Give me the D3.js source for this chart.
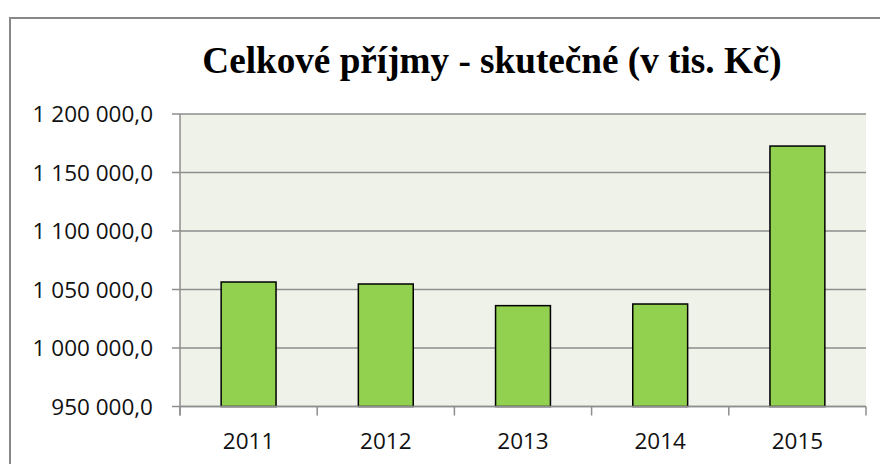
<!DOCTYPE html>
<html>
<head>
<meta charset="utf-8">
<script src="https://cdn.jsdelivr.net/npm/d3@7.9.0/dist/d3.min.js"></script>
<style>
  html, body { margin: 0; padding: 0; background: #fff; }
  svg { display: block; }
</style>
</head>
<body>
<svg id="chart" width="880" height="464"></svg>
<script>
// data
const years = ['2011', '2012', '2013', '2014', '2015'];
const prijmy = [1056400, 1054700, 1036200, 1037600, 1172600];
const yTicks = [950000, 1000000, 1050000, 1100000, 1150000, 1200000];
const title = 'Celkové příjmy - skutečné (v tis. Kč)';

const svg = d3.select('#chart');

// plot area
const plotL = 180, plotR = 866, plotT = 114, plotB = 406.5;

// outer chart frame (cropped at right/bottom)
svg.append('rect')
  .attr('x', 10).attr('y', 18)
  .attr('width', 900).attr('height', 500)
  .attr('fill', '#fff')
  .attr('stroke', '#888')
  .attr('stroke-width', 2);

svg.append('text')
  .attr('x', 492).attr('y', 73)
  .attr('text-anchor', 'middle')
  .style('font-family', '"Liberation Serif", "Times New Roman", serif')
  .style('font-weight', 'bold')
  .style('font-size', '37.2px')
  .text(title);

const xb = d3.scaleBand().domain(years).range([plotL, plotR]); // category slots
const y = d3.scaleLinear().domain([950000, 1200000]).range([plotB, plotT]);

svg.append('rect')
  .attr('x', plotL).attr('y', plotT)
  .attr('width', plotR - plotL).attr('height', plotB - plotT)
  .attr('fill', '#eff2e8');

// gridlines
svg.append('g')
  .selectAll('line')
  .data(yTicks)
  .join('line')
  .attr('x1', plotL - 8).attr('x2', plotR)
  .attr('y1', d => y(d)).attr('y2', d => y(d))
  .attr('stroke', '#8e8e8e')
  .attr('stroke-width', 1.5);

// y labels
const fmt = v => d3.format(',.1f')(v).replace(/,/g, ' ').replace('.', ',');
svg.append('g')
  .selectAll('text')
  .data(yTicks)
  .join('text')
  .attr('x', 153)
  .attr('y', d => y(d) + 8)
  .attr('text-anchor', 'end')
  .style('font-family', '"Open Sans", sans-serif')
  .style('font-size', '22.5px')
  .attr('fill', '#111')
  .text(fmt);

// y axis line
svg.append('line')
  .attr('x1', plotL).attr('x2', plotL)
  .attr('y1', plotT).attr('y2', plotB + 9)
  .attr('stroke', '#8e8e8e').attr('stroke-width', 1.5);

// category ticks
const bounds = years.map(d => xb(d)).concat([plotR]);
svg.append('g')
  .selectAll('line')
  .data(bounds)
  .join('line')
  .attr('x1', d => d).attr('x2', d => d)
  .attr('y1', plotB).attr('y2', plotB + 9)
  .attr('stroke', '#8e8e8e').attr('stroke-width', 1.5);

// bars
svg.append('g')
  .selectAll('rect')
  .data(years.map((yr, i) => ({ yr, v: prijmy[i] })))
  .join('rect')
  .attr('x', d => xb(d.yr) + xb.bandwidth() * 0.3)
  .attr('width', xb.bandwidth() * 0.4)
  .attr('y', d => y(d.v))
  .attr('height', d => plotB - y(d.v))
  .attr('fill', '#92d050')
  .attr('stroke', '#000')
  .attr('stroke-width', 1.5);

// baseline
svg.append('line')
  .attr('x1', plotL).attr('x2', plotR)
  .attr('y1', plotB).attr('y2', plotB)
  .attr('stroke', '#8e8e8e').attr('stroke-width', 1.5);

// x labels
svg.append('g')
  .selectAll('text')
  .data(years)
  .join('text')
  .attr('x', d => xb(d) + xb.bandwidth() / 2)
  .attr('y', 449)
  .attr('text-anchor', 'middle')
  .style('font-family', '"Open Sans", sans-serif')
  .style('font-size', '22.5px')
  .attr('fill', '#111')
  .text(d => d);
</script>
</body>
</html>
